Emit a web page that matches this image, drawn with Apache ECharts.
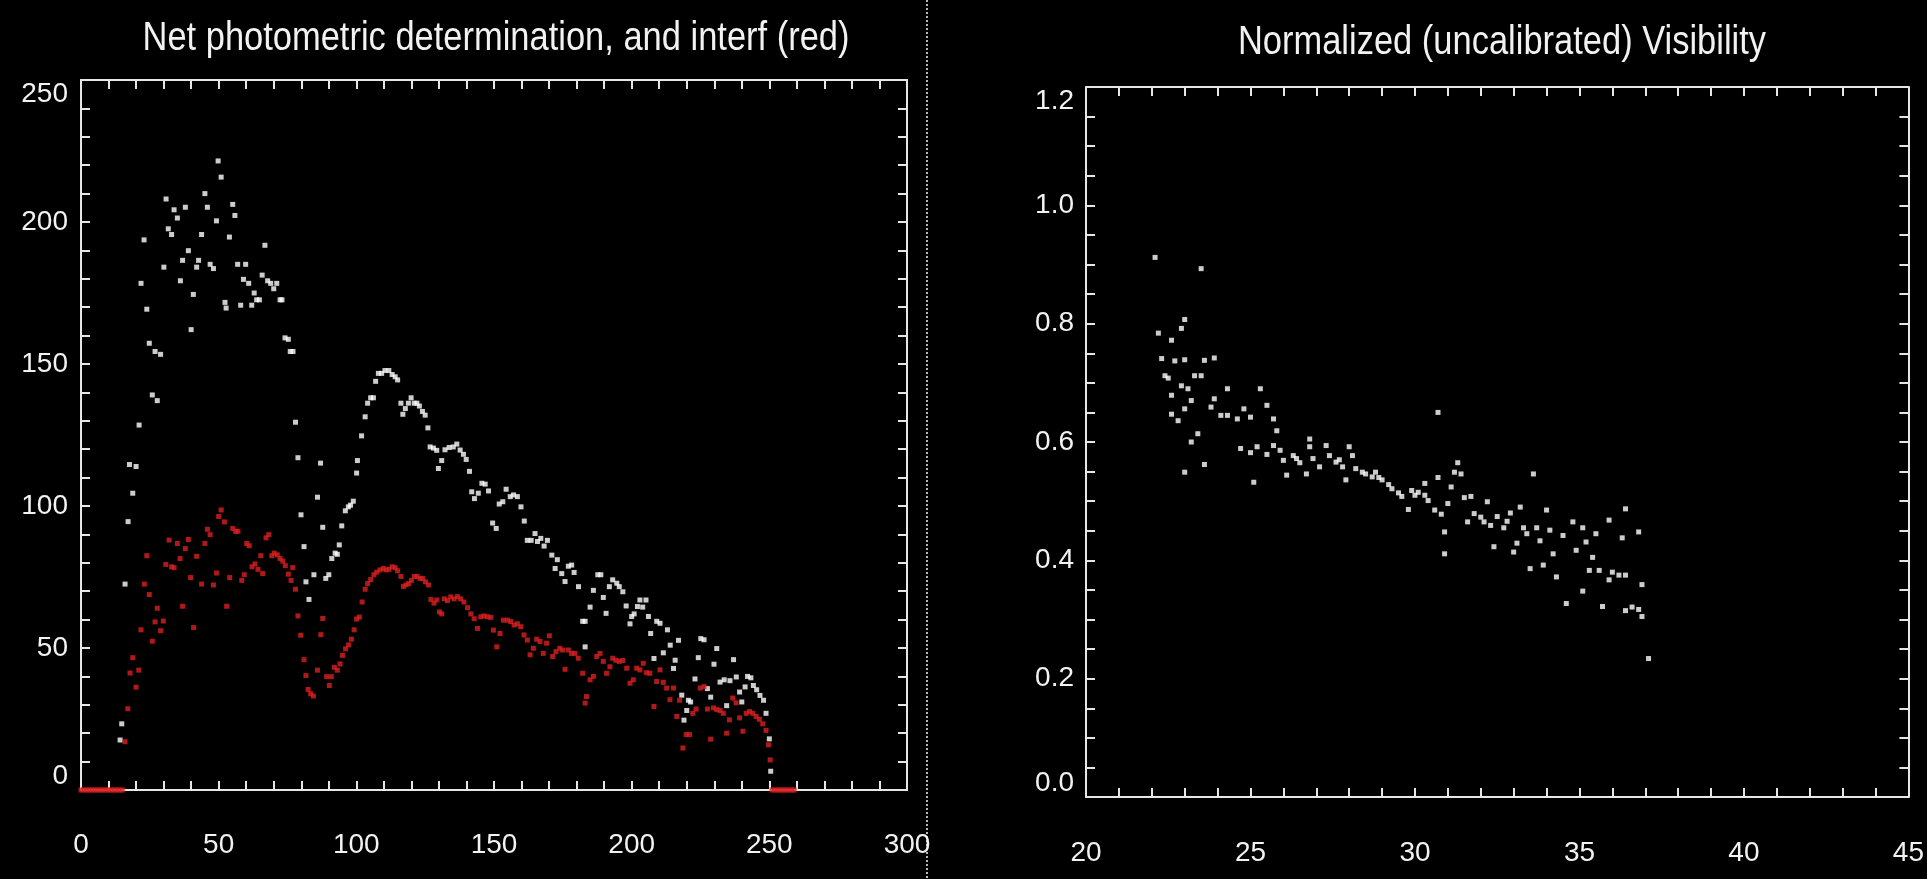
<!DOCTYPE html>
<html>
<head>
<meta charset="utf-8">
<script src="https://cdn.jsdelivr.net/npm/echarts@6/dist/echarts.min.js"></script>
<style>
  html, body { margin: 0; padding: 0; background: #000; }
  #chart { width: 1927px; height: 879px; }
</style>
</head>
<body>
<div id="chart"></div>
<script>
// left panel: net photometric (white) and interf (red)
var netX = [14.2,14.8,16.0,17.1,17.6,18.8,20.0,21.1,21.8,22.9,23.9,24.8,25.9,26.9,27.7,28.9,30.1,30.9,31.7,32.9,33.8,35.0,36.1,36.9,37.9,39.0,40.0,40.8,42.0,42.7,43.8,45.0,45.9,46.9,48.1,49.2,49.8,50.9,52.3,52.7,53.9,55.1,55.9,56.9,58.0,59.0,59.8,60.9,62.0,62.9,63.8,64.8,65.8,66.8,67.8,68.9,70.0,71.1,72.3,73.0,74.1,75.3,76.0,77.0,77.9,78.8,79.9,81.0,81.7,82.8,84.6,85.9,87.0,87.8,88.9,90.0,91.1,92.3,93.1,93.8,94.7,96.0,97.1,97.9,98.9,100.1,100.4,101.9,103.2,104.1,105.2,106.2,107.0,108.0,109.2,110.4,111.8,113.0,114.1,115.0,116.2,116.9,117.8,118.9,119.9,121.0,122.0,122.9,124.0,125.0,126.0,126.8,128.0,129.2,129.8,131.0,132.2,133.7,135.2,136.5,137.7,138.9,139.9,141.1,141.9,142.9,144.3,145.6,146.8,148.0,149.5,150.8,151.9,153.2,154.4,155.9,157.1,158.5,159.8,161.0,162.1,163.5,164.9,165.8,167.0,168.2,169.4,171.0,172.2,173.0,174.6,175.8,177.0,178.2,179.1,180.7,182.2,183.1,183.1,184.9,186.1,187.7,188.8,189.7,190.7,191.9,193.1,194.6,195.5,196.8,198.0,199.4,200.0,200.9,202.1,203.0,204.0,205.2,206.1,206.9,208.1,209.1,210.3,211.5,213.0,214.0,215.2,215.8,217.0,218.2,219.0,220.0,220.6,221.4,223.0,224.2,225.1,226.3,227.5,228.7,229.9,230.9,232.1,233.6,234.5,235.7,237.0,238.0,239.2,240.0,241.2,242.1,243.3,244.2,245.4,246.6,247.9,248.8,250.0,250.5];
var netY = [17.6,23.3,72.5,94.5,114.6,104.5,113.9,128.5,178.4,193.7,169.3,157.3,139.1,154.4,137.1,153.4,184.1,208.1,197.6,195.6,204.3,201.4,179.3,186.5,205.2,189.9,162.1,174.5,184.1,186.5,195.6,210.0,205.2,185.1,183.6,200.4,221.5,215.8,171.7,169.7,194.7,206.2,202.3,185.1,170.7,179.8,185.1,178.4,170.7,175.0,172.6,172.6,181.3,191.8,179.3,178.4,176.5,178.4,172.6,172.6,159.2,158.7,154.4,154.4,129.5,117.0,96.9,85.7,73.3,67.1,75.8,103.1,115.1,92.5,74.5,75.8,81.5,83.4,83.0,86.3,93.0,98.3,99.7,100.3,101.7,111.6,116.0,124.7,131.4,136.2,138.1,138.1,143.9,146.7,146.7,147.7,147.7,146.3,145.5,144.4,136.2,132.3,134.3,136.2,138.1,136.2,136.2,135.2,133.3,132.0,127.5,120.8,120.4,119.6,113.2,116.0,119.8,120.6,120.8,121.8,119.7,118.2,116.4,112.2,105.0,102.6,104.5,108.0,107.7,105.3,94.0,92.1,100.7,101.5,105.9,103.3,103.9,103.3,99.7,94.7,87.9,87.9,90.3,87.5,88.6,85.9,87.9,82.7,78.0,81.1,76.2,73.4,78.8,79.2,76.6,71.6,59.4,59.4,50.4,64.4,70.3,75.8,75.8,67.8,62.2,71.6,74.0,72.8,71.6,69.8,64.8,58.5,61.1,62.0,64.6,66.9,64.4,66.9,61.1,55.1,46.3,59.4,58.7,48.3,56.4,51.0,42.8,45.7,52.7,33.4,24.6,28.0,31.6,31.0,39.1,46.6,53.3,52.9,35.7,32.7,44.3,49.8,38.0,38.8,29.7,38.5,45.9,39.8,34.5,31.0,36.3,40.0,39.5,36.8,35.3,33.3,31.6,27.0,18.0,6.6];

var interfX = [0,1,2,3,4,5,6,7,8,9,10,11,12,13,14,15,16.0,17.0,17.8,18.8,20.0,21.0,21.8,23.0,23.9,24.8,25.9,26.9,27.7,28.9,29.9,30.8,32.0,32.9,33.8,35.0,36.0,36.9,37.9,39.0,39.8,40.9,42.0,43.8,45.0,45.9,46.9,48.1,49.2,50.0,50.9,52.1,52.9,54.0,55.1,56.2,57.0,58.4,59.3,60.2,61.1,62.1,63.2,64.3,65.3,66.0,67.2,68.2,69.3,70.2,71.3,72.3,73.3,74.2,75.3,76.3,76.9,77.9,78.8,79.8,81.0,81.7,82.5,83.4,84.4,85.9,87.1,87.8,89.2,90.2,90.9,92.0,93.1,94.1,95.0,96.1,97.2,98.2,99.2,100.1,101.1,102.1,103.2,104.1,105.2,106.4,107.4,108.6,109.8,110.8,111.9,113.0,114.1,115.0,116.2,117.1,118.1,119.0,120.0,121.1,122.1,123.1,124.1,125.1,126.2,127.1,128.2,129.2,130.2,131.0,131.9,133.1,134.3,135.5,136.7,137.9,139.1,140.4,141.6,142.8,144.0,145.2,146.4,147.6,148.8,149.8,151.0,152.2,153.4,154.9,156.1,157.3,158.5,159.7,160.9,162.1,163.1,164.3,165.5,166.7,167.9,169.1,170.1,171.3,172.5,173.9,174.9,175.8,177.0,178.2,179.4,180.6,182.2,183.1,183.6,184.9,186.1,187.3,188.5,189.7,190.9,192.1,193.1,194.3,195.5,196.8,198.2,199.4,200.6,201.8,203.0,204.2,205.4,206.6,208.1,209.1,210.3,211.5,212.7,213.9,215.2,216.4,217.4,218.6,219.8,221.0,222.2,223.4,224.9,226.3,227.5,228.7,229.7,230.9,232.1,233.3,234.5,235.5,236.7,237.9,239.2,240.4,241.6,242.8,244.0,245.2,246.4,247.6,248.8,249.7,250.3,251,252,253,254,255,256,257,258,259];
var interfY = [0,0,0,0,0,0,0,0,0,0,0,0,0,0,0,0,17.0,28.6,41.2,46.6,36.2,42.2,56.4,72.5,82.5,68.8,52.4,59.2,64.0,56.1,59.5,79.4,88.0,78.6,78.3,86.8,81.5,64.7,85.0,88.2,74.8,57.2,82.3,72.5,86.8,91.8,89.9,72.2,76.4,96.3,98.6,94.4,64.7,74.8,92.1,91.1,91.1,73.8,75.8,86.8,86.0,78.6,79.6,77.7,82.5,76.2,88.8,89.9,82.5,83.4,82.8,81.5,80.6,79.0,76.0,73.8,78.3,70.7,61.3,54.5,45.9,40.3,35.4,33.9,33.1,42.2,54.7,60.4,39.9,36.8,39.9,43.2,42.2,44.4,47.4,49.7,51.1,53.1,56.4,60.2,60.9,66.2,70.7,72.7,74.1,75.8,76.7,77.5,78.0,77.5,77.7,78.6,78.3,77.2,75.2,71.7,72.2,72.7,73.8,75.2,75.2,74.5,74.5,73.3,72.2,67.1,65.8,66.9,62.7,62.0,67.3,66.7,68.0,67.3,68.1,67.3,66.2,64.2,62.0,60.3,56.9,61.0,61.3,61.0,60.8,56.3,50.4,55.1,59.8,59.8,59.3,58.1,58.5,57.5,54.6,52.8,47.6,49.9,53.1,52.3,48.1,51.7,54.3,47.0,48.7,49.9,49.3,42.5,49.3,48.1,48.1,46.4,41.1,30.6,32.9,38.8,40.0,47.0,48.1,45.3,41.1,43.4,46.4,45.7,45.3,45.6,42.9,37.6,38.8,42.9,42.3,44.6,41.3,41.1,29.4,38.2,42.3,37.9,35.9,31.8,35.9,25.9,31.6,14.8,19.5,19.5,27.0,28.5,35.9,36.4,28.5,17.9,28.9,28.3,28.0,27.0,20.0,24.7,32.4,30.7,25.4,20.7,27.0,27.6,27.0,25.9,24.9,23.3,21.0,15.9,10.6,0,0,0,0,0,0,0,0,0];

// right panel: normalized visibility
var visX = [22.1,23.5,23.0,22.2,22.6,22.9,22.3,22.7,23.0,23.6,23.9,22.4,22.5,23.3,23.5,22.9,23.1,24.3,25.3,22.6,23.2,23.9,23.8,24.3,24.8,25.5,22.6,22.8,23.0,24.1,24.6,25.0,25.7,23.4,25.8,26.8,30.7,23.2,23.0,23.6,24.7,25.0,25.2,25.5,25.1,25.7,25.9,26.0,26.1,26.3,26.4,26.5,26.7,26.8,26.9,27.1,27.3,27.4,27.6,27.7,27.8,27.9,28.0,28.1,28.2,28.4,28.5,28.7,28.8,28.9,29.0,29.2,29.3,29.5,29.6,29.8,29.9,30.0,30.1,30.3,30.3,30.4,30.6,30.7,30.8,30.9,30.9,31.0,31.1,31.2,31.3,31.4,31.5,31.7,31.6,31.8,32.0,32.1,32.2,32.3,32.4,32.5,32.7,32.8,32.9,33.0,33.1,33.2,33.3,33.4,33.5,33.6,33.7,33.8,33.9,34.0,34.1,34.2,34.3,34.5,34.6,34.8,34.9,35.1,35.1,35.2,35.3,35.4,35.5,35.6,35.7,35.9,35.9,36.0,36.2,36.3,36.4,36.4,36.4,36.6,36.8,36.8,36.9,36.9,37.1];
var visY = [0.912,0.893,0.807,0.784,0.772,0.792,0.741,0.737,0.739,0.738,0.742,0.712,0.708,0.712,0.712,0.695,0.690,0.690,0.690,0.679,0.670,0.673,0.659,0.645,0.656,0.662,0.647,0.636,0.656,0.645,0.639,0.642,0.639,0.614,0.619,0.605,0.650,0.600,0.549,0.562,0.589,0.582,0.592,0.579,0.532,0.594,0.586,0.569,0.544,0.577,0.572,0.565,0.546,0.592,0.572,0.558,0.594,0.577,0.566,0.570,0.558,0.536,0.592,0.577,0.555,0.549,0.546,0.541,0.549,0.540,0.536,0.528,0.521,0.514,0.508,0.486,0.518,0.510,0.515,0.510,0.530,0.501,0.485,0.540,0.478,0.448,0.411,0.496,0.524,0.549,0.565,0.546,0.506,0.508,0.465,0.479,0.473,0.465,0.499,0.459,0.423,0.474,0.455,0.466,0.480,0.414,0.429,0.490,0.455,0.445,0.386,0.546,0.455,0.433,0.392,0.485,0.451,0.411,0.372,0.442,0.327,0.465,0.417,0.348,0.455,0.431,0.383,0.405,0.445,0.383,0.322,0.367,0.468,0.380,0.375,0.438,0.487,0.375,0.315,0.321,0.317,0.448,0.359,0.305,0.234];

var leftTitle = 'Net photometric determination, and interf (red)';
var rightTitle = 'Normalized (uncalibrated) Visibility';

function pairs(xs, ys) {
  return xs.map(function (x, i) { return [x, ys[i]]; });
}

var fontFam = '"Liberation Sans", Arial, sans-serif';
var lineCol = '#e6e6e6';

// the titles are in a narrow face; squeeze Liberation Sans to the same width
var titleFont = '40px ' + fontFam;
var mctx = document.createElement('canvas').getContext('2d');
mctx.font = titleFont;
var squeeze = 707 / mctx.measureText(leftTitle).width;

function boxAxis(opt, minorSplit) {
  // one side of the IDL-style box: inward ticks on every minor step
  return Object.assign({
    type: 'value',
    axisLine: { show: true, onZero: false, lineStyle: { color: lineCol, width: 2 } },
    axisTick: { show: true, inside: true, length: 9, lineStyle: { color: lineCol, width: 2 } },
    minorTick: { show: true, splitNumber: minorSplit, length: 9, lineStyle: { color: lineCol, width: 2 } },
    splitLine: { show: false },
    minorSplitLine: { show: false },
    axisLabel: { show: false }
  }, opt);
}

function labels(opt) {
  return Object.assign({ show: true, color: '#f2f2f2', fontFamily: fontFam, fontSize: 28 }, opt);
}

var chart = echarts.init(document.getElementById('chart'), null, { renderer: 'canvas' });

var option = {
  backgroundColor: '#000',
  animation: false,
  grid: [
    { left: 81, top: 80, width: 826, height: 710 },
    { left: 1086, top: 87, width: 826, height: 710 }
  ],
  xAxis: [
    boxAxis({ gridIndex: 0, position: 'bottom', min: 0, max: 300, interval: 50, axisLabel: labels({ margin: 41 }) }, 5),
    boxAxis({ gridIndex: 0, position: 'top', min: 0, max: 300, interval: 50 }, 5),
    boxAxis({ gridIndex: 1, position: 'bottom', min: 20, max: 45, interval: 5, axisLabel: labels({ margin: 42 }) }, 5),
    boxAxis({ gridIndex: 1, position: 'top', min: 20, max: 45, interval: 5 }, 5)
  ],
  yAxis: [
    boxAxis({ gridIndex: 0, position: 'left', min: 0, max: 250, interval: 50,
      axisLabel: labels({ margin: 13, verticalAlignMinLabel: 'bottom', verticalAlignMaxLabel: 'top' }) }, 5),
    boxAxis({ gridIndex: 0, position: 'right', min: 0, max: 250, interval: 50 }, 5),
    boxAxis({ gridIndex: 1, position: 'left', min: 0, max: 1.2, interval: 0.2,
      axisLabel: labels({ margin: 12, verticalAlignMinLabel: 'bottom', verticalAlignMaxLabel: 'top',
        formatter: function (v) { return v.toFixed(1); } }) }, 4),
    boxAxis({ gridIndex: 1, position: 'right', min: 0, max: 1.2, interval: 0.2 }, 4)
  ],
  series: [
    { name: 'net', type: 'scatter', xAxisIndex: 0, yAxisIndex: 0, data: pairs(netX, netY),
      symbol: 'rect', symbolSize: 5, itemStyle: { color: '#ffffff' } },
    { name: 'interf', type: 'scatter', xAxisIndex: 0, yAxisIndex: 0, data: pairs(interfX, interfY),
      symbol: 'rect', symbolSize: 5, itemStyle: { color: '#dc1f1f' }, z: 3 },
    { name: 'visibility', type: 'scatter', xAxisIndex: 2, yAxisIndex: 2, data: pairs(visX, visY),
      symbol: 'rect', symbolSize: 5, itemStyle: { color: '#ffffff' } }
  ],
  graphic: [
    { type: 'text', x: 496, y: 19, scaleX: squeeze,
      style: { text: leftTitle, fill: '#f2f2f2', font: titleFont, align: 'center', verticalAlign: 'top' } },
    { type: 'text', x: 1502, y: 23, scaleX: squeeze,
      style: { text: rightTitle, fill: '#f2f2f2', font: titleFont, align: 'center', verticalAlign: 'top' } },
    { type: 'line', shape: { x1: 927, y1: 0, x2: 927, y2: 879 },
      style: { stroke: '#b8b8b8', lineWidth: 2, lineDash: [2, 2] } }
  ]
};
chart.setOption(option);
</script>
</body>
</html>
